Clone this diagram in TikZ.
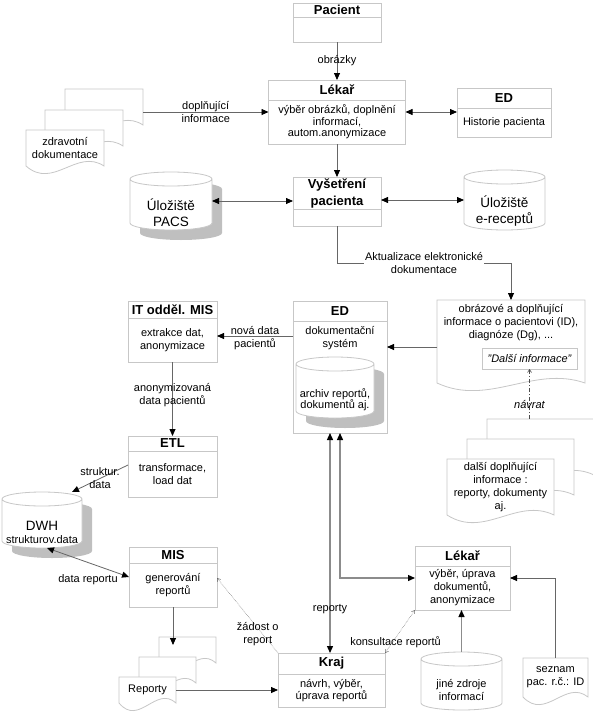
\documentclass[tikz,border=0pt]{standalone}
\usepackage{fontspec}
\setmainfont{Liberation Sans}
\usetikzlibrary{positioning,calc,arrows.meta,backgrounds}

\definecolor{boxgray}{gray}{0.78}
\definecolor{linegray}{gray}{0.4}

\tikzset{
  every node/.style={font=\fontsize{11}{13}\selectfont, inner sep=0pt, outer sep=0pt, align=center},
  classhead/.style={draw=boxgray, line width=0.9pt, anchor=north west, font=\fontsize{13}{16}\selectfont\bfseries},
  classbody/.style={draw=boxgray, line width=0.9pt},
  holder/.style={anchor=north west},
  docline/.style={draw=boxgray, line width=0.8pt, fill=white},
  drumline/.style={draw=boxgray, line width=0.8pt, fill=white},
  shadowed/.style={preaction={fill=black!25, transform canvas={shift={(10pt,-10pt)}}}},
  bigtext/.style={font=\fontsize{13.5}{16}\selectfont},
  flow/.style={draw=linegray, line width=0.8pt, -{Triangle[color=black, fill=black, length=7pt, width=6pt]}},
  dflow/.style={flow, {Triangle[color=black, fill=black, length=7pt, width=6pt]}-{Triangle[color=black, fill=black, length=7pt, width=6pt]}},
  heavy/.style={draw=black!45, line width=1.3pt},
  hint/.style={draw=linegray, line width=0.5pt, densely dotted, -{Straight Barb[length=3pt, width=4pt]}},
  dhint/.style={hint, {Straight Barb[length=3pt, width=4pt]}-{Straight Barb[length=3pt, width=4pt]}},
  returnflow/.style={draw=black!70, line width=0.6pt, dash pattern=on 4pt off 2pt on 1pt off 2pt, -{Straight Barb[length=3pt, width=4pt]}},
  gap/.style={fill=white, inner sep=1pt},
}

\newcommand{\storedrum}[4][]{%
  \draw[drumline,#1] ($(#2.north west)+(0,#4)$) -- ($(#2.south west)+(0,-#4)$)
    arc[start angle=180, end angle=360, x radius=#3pt, y radius=#4pt]
    -- ($(#2.north east)+(0,#4)$)
    arc[start angle=0, end angle=180, x radius=#3pt, y radius=#4pt] -- cycle
    ($(#2.north west)+(0,#4)$)
    arc[start angle=180, end angle=360, x radius=#3pt, y radius=#4pt];}

\newcommand{\docpage}[1]{%
  \begin{scope}[on background layer]
    \draw[docline] (#1.north west) -- (#1.north east) -- (#1.south east)
      .. controls ($(#1.south east)!0.35!(#1.south west)+(0,-18)$)
      and ($(#1.south west)!0.35!(#1.south east)+(0,24)$) .. (#1.south west) -- cycle;
  \end{scope}}

\begin{document}
\begin{tikzpicture}[x=1pt, y=-1pt]
  \useasboundingbox (0,0) rectangle (592,712);

  % Classes
  \node[classhead, minimum width=88pt, minimum height=14pt] (pacient) at (293,3) {Pacient};
  \node[classbody, below=0pt of pacient, minimum width=88pt, minimum height=25pt] (pacient-body) {};
  \node[classhead, below=38pt of pacient-body, minimum width=137pt, minimum height=20pt] (lekar) {Lékař};
  \node[classbody, below=0pt of lekar, minimum width=137pt, minimum height=44pt, font=\fontsize{11}{11.5}\selectfont] (lekar-body) {výběr obrázků, doplnění\\informací,\\autom.anonymizace};
  \node[classhead, minimum width=94pt, minimum height=20pt] (ed-hist) at (457,88) {ED};
  \node[classbody, below=0pt of ed-hist, minimum width=94pt, minimum height=29pt] (ed-hist-body) {Historie pacienta};
  \node[classhead, below=33pt of lekar-body, minimum width=88pt, minimum height=32pt, font=\fontsize{13}{17}\selectfont\bfseries] (vysetreni) {Vyšetření\\pacienta};
  \node[classbody, below=0pt of vysetreni, minimum width=88pt, minimum height=17pt] (vysetreni-body) {};

  \node[classhead, minimum width=89pt, minimum height=17pt] (it) at (128,301) {IT odděl. MIS};
  \node[classbody, below=0pt of it, minimum width=89pt, minimum height=44pt] (it-body) {extrakce dat,\\anonymizace};
  \node[classhead, below=74pt of it-body, minimum width=89pt, minimum height=15pt] (etl) {ETL};
  \node[classbody, below=0pt of etl, minimum width=89pt, minimum height=46pt] (etl-body) {transformace,\\load dat};
  \node[classhead, minimum width=94pt, minimum height=20pt] (ed) at (293,301) {ED};
  \node[classbody, below=0pt of ed, minimum width=94pt, minimum height=112pt] (ed-body) {};
  \node[below=5pt of ed.south] (ed-text) {dokumentační\\systém};

  \node[classhead, minimum width=88pt, minimum height=16pt] (mis) at (129,547) {MIS};
  \node[classbody, below=0pt of mis, minimum width=88pt, minimum height=44pt] (mis-body) {generování\\reportů};
  \node[classhead, minimum width=95pt, minimum height=20pt] (lekar2) at (415,546) {Lékař};
  \node[classbody, below=0pt of lekar2, minimum width=95pt, minimum height=44pt] (lekar2-body) {výběr, úprava\\dokumentů,\\anonymizace};
  \node[classhead, minimum width=107pt, minimum height=21pt] (kraj) at (278,653) {Kraj};
  \node[classbody, below=0pt of kraj, minimum width=107pt, minimum height=33pt, font=\fontsize{11}{11.5}\selectfont] (kraj-body) {návrh, výběr,\\úprava reportů};

  % Stores
  \node[holder, minimum width=82pt, minimum height=58pt] (pacs) at (130,172) {};
  \storedrum[shadowed]{pacs}{41}{7}
  \node[bigtext] (pacs-text) at ([yshift=-12pt]pacs.center) {Úložiště\\PACS};
  \node[holder, minimum width=81pt, minimum height=60pt] (erecept) at (464,170) {};
  \storedrum{erecept}{40.5}{7}
  \node[bigtext] (erecept-text) at ([yshift=-11.5pt]erecept.center) {Úložiště\\e-receptů};
  \node[holder, minimum width=78pt, minimum height=61pt] (archiv) at (296,357) {};
  \storedrum[shadowed]{archiv}{39}{7}
  \node[font=\fontsize{11}{11.5}\selectfont] (archiv-text) at ([yshift=-12pt]archiv.center) {archiv reportů,\\dokumentů aj.};
  \node[holder, minimum width=80pt, minimum height=56pt] (dwh) at (2,492) {};
  \storedrum[shadowed]{dwh}{40}{7}
  \node (dwh-text) at ([yshift=-12pt]dwh.center) {{\fontsize{13.5}{13}\selectfont DWH}\\strukturov.data};
  \node[holder, minimum width=81pt, minimum height=58pt] (jine) at (421,652) {};
  \storedrum{jine}{40.5}{7}
  \node (jine-text) at ([yshift=-8.5pt]jine.center) {jiné zdroje\\informací};

  % Documents
  \node[holder, minimum width=78pt, minimum height=36pt] (zdrav-3) at (65,89) {};
  \node[holder, minimum width=78pt, minimum height=36pt] (zdrav-2) at (45,110) {};
  \node[holder, minimum width=78pt, minimum height=36pt] (zdrav-1) at (26,130) {zdravotní\\dokumentace};
  \docpage{zdrav-3}\docpage{zdrav-2}\docpage{zdrav-1}

  \node[holder, minimum width=148pt, minimum height=83pt] (obraz) at (437,300) {};
  \docpage{obraz}
  \node[below=4.5pt of obraz.north] (obraz-text) {obrázové a doplňující\\informace o pacientovi (ID),\\diagnóze (Dg), ...};
  \node[draw=boxgray, line width=0.8pt, anchor=north west, minimum width=95pt, minimum height=21pt, font=\fontsize{11}{13}\selectfont\itshape] (dalsi-info) at (482,348) {"Další informace"};

  \node[holder, minimum width=107pt, minimum height=56pt] (dalsi-3) at (487,419) {};
  \node[holder, minimum width=107pt, minimum height=56pt] (dalsi-2) at (467,439) {};
  \node[holder, minimum width=107pt, minimum height=56pt] (dalsi-1) at (447,459) {další doplňující\\informace :\\reporty, dokumenty\\aj.};
  \docpage{dalsi-3}\docpage{dalsi-2}\docpage{dalsi-1}

  \node[holder, minimum width=57pt, minimum height=26pt] (reporty-3) at (159,637) {};
  \node[holder, minimum width=57pt, minimum height=26pt] (reporty-2) at (139,657) {};
  \node[holder, minimum width=57pt, minimum height=26pt] (reporty-1) at (119,677) {Reporty};
  \docpage{reporty-3}\docpage{reporty-2}\docpage{reporty-1}

  \node[holder, minimum width=65pt, minimum height=39pt] (seznam) at (523,658) {seznam\\pac. r.č.: ID};
  \docpage{seznam}

  % Connect the nodes
  \draw[flow] (pacient-body.south) -- (lekar.north) node[midway] {obrázky};
  \draw[flow] ([yshift=-5pt]zdrav-3.east) -- ([yshift=-5pt]zdrav-3.east -| lekar-body.west)
    node[midway] {doplňující\\informace};
  \draw[dflow] ([yshift=-4pt]ed-hist-body.north west -| lekar-body.east) -- ([yshift=-4pt]ed-hist-body.north west);
  \draw[flow] (lekar-body.south) -- (lekar-body.south |- vysetreni.north);
  \draw[dflow] (pacs.east) -- (pacs.east -| vysetreni.west);
  \draw[dflow] (erecept.west -| vysetreni.east) -- (erecept.west);
  \draw[flow] (vysetreni-body.south) -- ++(0,37) -| node[gap, pos=0.25] {Aktualizace elektronické\\dokumentace} (obraz.north);
  \draw[flow] ([yshift=-5.5pt]obraz.west) -- ([yshift=-5.5pt]obraz.west -| ed-body.east);
  \draw[flow] ([yshift=4pt]it-body.east -| ed-body.west) -- ([yshift=4pt]it-body.east)
    node[midway, yshift=-2pt] {nová data\\pacientů};
  \draw[flow] (it-body.south) -- (etl.north) node[pos=0.45] {anonymizovaná\\data pacientů};
  \draw[flow] ([yshift=9pt]etl-body.west) -- ([xshift=-10pt]dwh.north east) node[midway] {struktur.\\data};
  \draw[dflow] ([xshift=5pt]dwh.south) -- ([yshift=8pt]mis-body.west) node[midway, below=12pt] {data reportu};
  \draw[flow] (mis-body.south) -- ([yshift=-8pt]mis-body.south |- reporty-3.north);
  \draw[flow] (reporty-1.east) -- (reporty-1.east -| kraj-body.west);
  \draw[hint] (kraj.north west) -- ([yshift=7pt]mis-body.east) node[pos=0.25, xshift=-5pt] {žádost o\\report};
  \draw[dflow, heavy] ([xshift=-10pt]ed-body.south) -- ([xshift=-10pt]ed-body.south |- kraj.north)
    node[pos=0.8] {reporty};
  \draw[dflow, heavy] (ed-body.south) |- ([yshift=10pt]lekar2-body.west);
  \draw[dhint] (kraj.north east) -- (lekar2-body.south west) node[pos=0.25, xshift=3pt] {konsultace reportů};
  \draw[flow, heavy] (jine.north) -- (jine.north |- lekar2-body.south);
  \draw[flow] (seznam.north) |- ([yshift=10pt]lekar2-body.east);
  \draw[returnflow] (dalsi-info.south |- dalsi-3.north) -- (dalsi-info.south)
    node[pos=0.3, font=\fontsize{11}{13}\selectfont\itshape] {návrat};

\end{tikzpicture}
\end{document}
